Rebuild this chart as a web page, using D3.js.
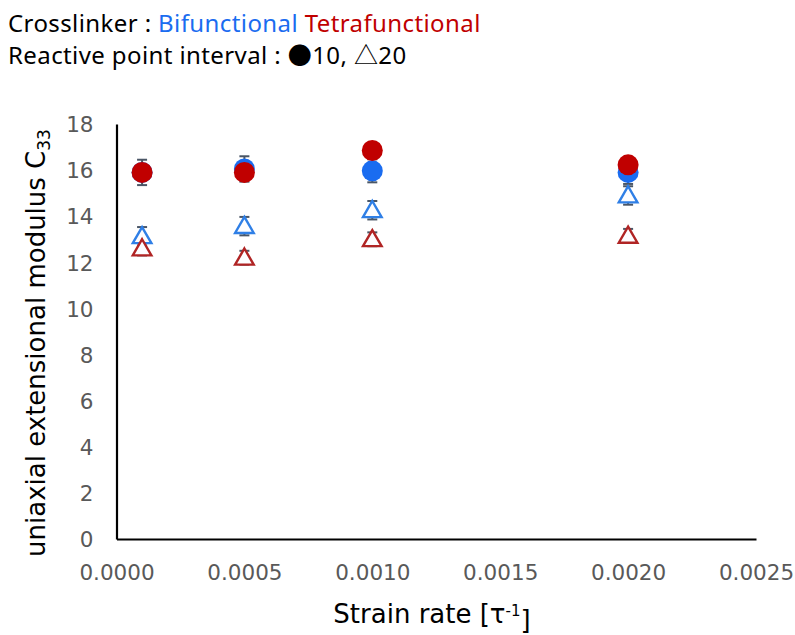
<!DOCTYPE html>
<html>
<head>
<meta charset="utf-8">
<script src="https://cdn.jsdelivr.net/npm/d3@7"></script>
<style>
  body { margin: 0; background: #fff; }
  svg { display: block; }
</style>
</head>
<body>
<svg id="chart"></svg>
<script>
// strain rates (x) shared by every series
const rates = [0.0001, 0.0005, 0.0010, 0.0020];

// reactive point interval 10 (filled circles)
const biCircle = [15.9, 16.05, 15.97, 15.9];
const biCircleErr = [0.3, 0.55, 0.5, 0.5];
const tetraCircle = [15.9, 15.9, 16.85, 16.23];
const tetraCircleErr = [0.55, 0.3, 0.2, 0.2];

// reactive point interval 20 (open triangles)
const biTri = [13.13, 13.57, 14.26, 14.9];
const biTriErr = [0.4, 0.4, 0.4, 0.4];
const tetraTri = [12.6, 12.2, 13.0, 13.15];
const tetraTriErr = [0.3, 0.3, 0.3, 0.3];

const xTicks = [0, 0.0005, 0.0010, 0.0015, 0.0020, 0.0025];
const yTicks = [0, 2, 4, 6, 8, 10, 12, 14, 16, 18];

const W = 795, H = 635;
const blue = "#1a6cf0", red = "#c00000";
const blueLine = "#2f7fe6", redLine = "#b02424";
const errColor = "#4a5666";

const svg = d3.select("svg#chart")
  .attr("width", W)
  .attr("height", H)
  .style("font-family", "'DejaVu Sans', sans-serif");

const x = d3.scaleLinear().domain([0, 0.0025]).range([116.5, 756]);
const y = d3.scaleLinear().domain([0, 18]).range([539, 124]);

// header text
const head = svg.append("g").style("font-family", "'Noto Sans', 'Liberation Sans', sans-serif")
  .style("font-size", "24px").style("letter-spacing", "0.4px");
const l1 = head.append("text").attr("x", 8).attr("y", 32);
l1.append("tspan").attr("fill", "#000").text("Crosslinker : ");
l1.append("tspan").attr("fill", blue).text("Bifunctional");
l1.append("tspan").attr("fill", red).text(" Tetrafunctional");
const l2 = head.append("text").attr("x", 8).attr("y", 64).attr("fill", "#000");
l2.append("tspan").text("Reactive point interval : ");
l2.append("tspan").style("font-family", "'Noto Sans CJK JP'").text("●");
l2.append("tspan").text("10, ");
l2.append("tspan").style("font-family", "'Noto Sans CJK JP'").text("△");
l2.append("tspan").text("20");

// axes
const xAxis = d3.axisBottom(x).tickValues(xTicks).tickSize(0).tickPadding(26)
  .tickFormat(d3.format(".4f"));
const yAxis = d3.axisLeft(y).tickValues(yTicks).tickSize(0).tickPadding(23);

const gx = svg.append("g").attr("transform", "translate(0," + y(0) + ")").call(xAxis);
const gy = svg.append("g").attr("transform", "translate(" + x(0) + ",0)").call(yAxis);

[gx, gy].forEach(g => {
  g.select(".domain").attr("stroke", "#000").attr("stroke-width", 2.2);
  g.selectAll("text").attr("fill", "#595959").style("font-size", "21.5px")
    .style("font-family", "'DejaVu Sans', sans-serif");
});
gy.selectAll("text").attr("dy", "0.36em");

// axis titles
const yt = svg.append("text")
  .attr("transform", "translate(45," + 343 + ") rotate(-90)")
  .attr("text-anchor", "middle")
  .style("font-size", "26px")
  .attr("fill", "#000");
yt.append("tspan").text("uniaxial extensional modulus C");
yt.append("tspan").attr("dy", "0.3em").style("font-size", "17px").text("33");

const xt = svg.append("text")
  .attr("x", 432).attr("y", 623)
  .attr("text-anchor", "middle")
  .style("font-size", "26px")
  .attr("fill", "#000");
xt.append("tspan").text("Strain rate [τ");
xt.append("tspan").attr("dy", "-0.5em").style("font-size", "15px").text("-1");
xt.append("tspan").attr("dy", "0.5em").text("]");

// series
const series = [
  { vals: biCircle, err: biCircleErr, shape: "circle", color: blue },
  { vals: biTri, err: biTriErr, shape: "tri", color: blueLine },
  { vals: tetraTri, err: tetraTriErr, shape: "tri", color: redLine },
  { vals: tetraCircle, err: tetraCircleErr, shape: "circle", color: red }
];

const tri = d3.symbol().type(d3.symbolTriangle).size(150);

// error bars first, markers on top
series.forEach(s => {
  const g = svg.append("g").attr("stroke", errColor).attr("stroke-width", 2);
  rates.forEach((r, i) => {
    const cx = x(r), lo = y(s.vals[i] - s.err[i]), hi = y(s.vals[i] + s.err[i]);
    g.append("line").attr("x1", cx).attr("x2", cx).attr("y1", lo).attr("y2", hi);
    g.append("line").attr("x1", cx - 5).attr("x2", cx + 5).attr("y1", lo).attr("y2", lo);
    g.append("line").attr("x1", cx - 5).attr("x2", cx + 5).attr("y1", hi).attr("y2", hi);
  });
});

series.forEach(s => {
  const g = svg.append("g");
  if (s.shape === "circle") {
    g.selectAll("circle").data(s.vals).enter().append("circle")
      .attr("cx", (d, i) => x(rates[i]))
      .attr("cy", d => y(d))
      .attr("r", 10.5)
      .attr("fill", s.color);
  } else {
    g.selectAll("path").data(s.vals).enter().append("path")
      .attr("d", tri)
      .attr("transform", (d, i) => "translate(" + x(rates[i]) + "," + (y(d) + 1.5) + ")")
      .attr("fill", "#fdfdff")
      .attr("stroke", s.color)
      .attr("stroke-width", 2.4);
  }
});
</script>
</body>
</html>
